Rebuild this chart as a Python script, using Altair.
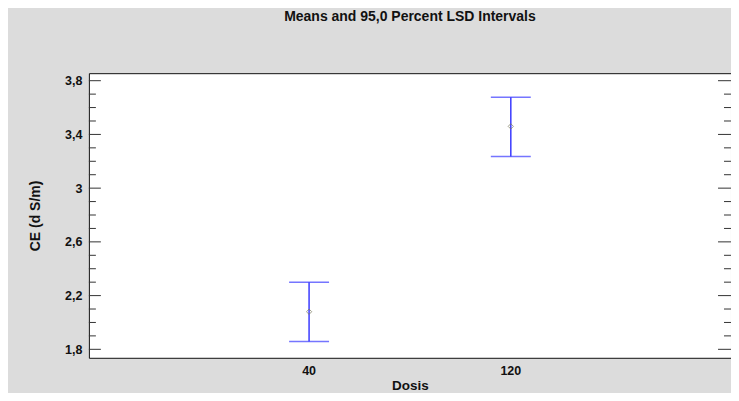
import altair as alt
import pandas as pd

# Data
dosis = ["40", "120"]
means = [2.08, 3.46]
lower = [1.858, 3.235]
upper = [2.300, 3.677]

major_ticks = [1.8, 2.2, 2.6, 3.0, 3.4, 3.8]
minor_ticks = [1.9, 2.0, 2.1, 2.3, 2.4, 2.5, 2.7, 2.8, 2.9, 3.1, 3.2, 3.3, 3.5, 3.6, 3.7]

df = pd.DataFrame({"Dosis": dosis, "mean": means, "lo": lower, "hi": upper})
df_major = pd.DataFrame({"v": major_ticks})
df_minor = pd.DataFrame({"v": minor_ticks})

W, H = 643, 285
FONT = "Liberation Sans"
BLUE = "#3b3bff"
TICK = "#333333"

yscale = alt.Scale(domain=[1.737, 3.856], zero=False, nice=False)
xscale = alt.Scale(type="band", domain=dosis, paddingOuter=1, paddingInner=0.817)

x_enc = alt.X(
    "Dosis:N",
    scale=xscale,
    sort=dosis,
    axis=alt.Axis(
        title="Dosis",
        ticks=False,
        tickSize=0,
        domain=False,
        labelAngle=0,
        labelBaseline="alphabetic",
        labelPadding=17,
        labelFont=FONT,
        labelFontSize=12.5,
        labelFontWeight="bold",
        labelColor="#111111",
        titleFont=FONT,
        titleFontSize=13.5,
        titleFontWeight="bold",
        titleColor="#111111",
        titleBaseline="alphabetic",
        titleY=31.5,
        titleX=W / 2,
        titleAlign="center",
    ),
)

y_axis = alt.Axis(
    title="CE (d S/m)",
    values=major_ticks,
    ticks=False,
    tickSize=0,
    domain=False,
    grid=False,
    labelPadding=7,
    labelExpr="replace(toString(round(datum.value*10)/10), '.', ',')",
    labelFont=FONT,
    labelFontSize=12.5,
    labelFontWeight="bold",
    labelColor="#111111",
    titleFont=FONT,
    titleFontSize=14,
    titleFontWeight="bold",
    titleColor="#111111",
    titleAngle=270,
    titleAlign="center",
    titleBaseline="middle",
    titleX=-53,
    titleY=H / 2,
)

bars = alt.Chart(df).mark_rule(color=BLUE, strokeWidth=1.5).encode(
    x=x_enc,
    y=alt.Y("lo:Q", scale=yscale, axis=y_axis),
    y2="hi:Q",
)
cap_lo = alt.Chart(df).mark_tick(
    color=BLUE, orient="horizontal", size=40, thickness=1.5
).encode(x=alt.X("Dosis:N", scale=xscale, sort=dosis), y=alt.Y("lo:Q", scale=yscale))
cap_hi = alt.Chart(df).mark_tick(
    color=BLUE, orient="horizontal", size=40, thickness=1.5
).encode(x=alt.X("Dosis:N", scale=xscale, sort=dosis), y=alt.Y("hi:Q", scale=yscale))
pts = alt.Chart(df).mark_point(
    shape="diamond", size=28, filled=False, color="#77775a", strokeWidth=1
).encode(x=alt.X("Dosis:N", scale=xscale, sort=dosis), y=alt.Y("mean:Q", scale=yscale))

major_l = alt.Chart(df_major).mark_rule(color=TICK, strokeWidth=1).encode(
    y=alt.Y("v:Q", scale=yscale), x=alt.value(0), x2=alt.value(12)
)
minor_l = alt.Chart(df_minor).mark_rule(color=TICK, strokeWidth=1).encode(
    y=alt.Y("v:Q", scale=yscale), x=alt.value(0), x2=alt.value(7)
)
major_r = alt.Chart(df_major).mark_rule(color=TICK, strokeWidth=1).encode(
    y=alt.Y("v:Q", scale=yscale), x=alt.value(W - 13), x2=alt.value(W)
)
minor_r = alt.Chart(df_minor).mark_rule(color=TICK, strokeWidth=1).encode(
    y=alt.Y("v:Q", scale=yscale), x=alt.value(W - 7), x2=alt.value(W)
)

chart = (
    alt.layer(bars, cap_lo, cap_hi, pts, major_l, minor_l, major_r, minor_r)
    .properties(
        width=W,
        height=H,
        title=alt.TitleParams(
            "Means and 95,0 Percent LSD Intervals",
            font=FONT,
            fontSize=14,
            fontWeight="bold",
            color="#111111",
            anchor="middle",
            frame="group",
            baseline="alphabetic",
            offset=38,
        ),
        autosize=alt.AutoSizeParams(type="none"),
        padding={"left": 81, "top": 65, "right": 0, "bottom": 35},
        background="#dcdcdc",
    )
    .configure_view(fill="white", stroke="#111111", strokeWidth=1)
)

chart.save("out.html", embed_options={"renderer": "svg", "actions": False})
